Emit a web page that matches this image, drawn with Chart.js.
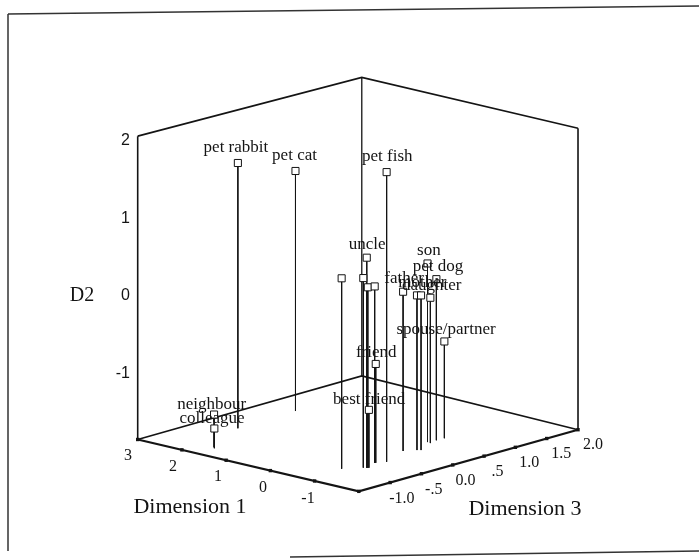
<!DOCTYPE html>
<html>
<head>
<meta charset="utf-8">
<script src="https://cdn.jsdelivr.net/npm/chart.js@4/dist/chart.umd.min.js"></script>
<style>
    html, body { margin: 0; padding: 0; background: #fff; }
    #chart { display: block; }
</style>
</head>
<body>
<canvas id="chart" width="699" height="559"></canvas>
<script>
(function () {
    'use strict';

    // MDS solution, three dimensions
    const pointNames = ['pet rabbit', 'pet cat', 'pet fish', 'uncle', '', '', '', '', 'son', 'pet dog',
        'father', '', 'mother', 'daughter', 'spouse/partner', 'friend', 'best friend', 'neighbour', 'colleague'];
    const dim1Values = [2.25, 2.29, -1.05, -1.07, -0.80, -1.02, -1.08, -0.95, -0.69, -0.72,
        -0.78, -0.91, -0.96, -0.77, -0.73, -0.96, -1.09, 1.72, 1.67];
    const dim2Values = [1.61, 1.29, 1.91, 0.86, 0.60, 0.59, 0.47, 0.42, 0.46, 0.23,
        0.20, 0.14, 0.14, 0.02, -0.62, -0.60, -1.14, -1.47, -1.64];
    const dim3Values = [-0.45, 0.48, -0.39, -0.72, -0.93, -0.74, -0.71, -0.51, 0.51, 0.63,
        0.06, 0.19, 0.22, 0.50, 0.75, -0.50, -0.70, -1.19, -1.22];

    const dim1Ticks = [3, 2, 1, 0, -1];
    const dim1TickLabels = ['3', '2', '1', '0', '-1'];
    const dim2Ticks = [2, 1, 0, -1];
    const dim2TickLabels = ['2', '1', '0', '-1'];
    const dim3Ticks = [-1, -0.5, 0, 0.5, 1, 1.5, 2];
    const dim3TickLabels = ['-1.0', '-.5', '0.0', '.5', '1.0', '1.5', '2.0'];

    const dim1Range = [3, -2];
    const dim2Range = [-1.9, 2.1];
    const dim3Range = [-1.5, 2];

    // box placement on the page plane (floor corners and wall heights)
    const floorLeft = [134, 443];
    const floorFront = [359, 496];
    const floorRight = [582, 433];
    const floorBack = [362, 378];
    const heights = { left: 310, front: 313, right: 308, back: 305 };

    const ink = '#141414';
    const serif = '"Liberation Serif", "Times New Roman", serif';
    const sans = '"Liberation Sans", Arial, sans-serif';

    function project(d1, d2, d3) {
        const u = (d1 - dim1Range[0]) / (dim1Range[1] - dim1Range[0]);
        const w = (d3 - dim3Range[0]) / (dim3Range[1] - dim3Range[0]);
        const v = (d2 - dim2Range[0]) / (dim2Range[1] - dim2Range[0]);
        function mix(a, b, c, d) {
            return (1 - u) * (1 - w) * a + u * (1 - w) * b + u * w * c + (1 - u) * w * d;
        }
        const x = mix(floorLeft[0], floorFront[0], floorRight[0], floorBack[0]);
        const yFloor = mix(floorLeft[1], floorFront[1], floorRight[1], floorBack[1]);
        const h = mix(heights.left, heights.front, heights.right, heights.back);
        return { x: x, y: yFloor - v * h };
    }

    function lineSet(points, width) {
        return {
            data: points,
            showLine: true,
            borderColor: ink,
            borderWidth: width,
            pointRadius: 0,
            fill: false,
            tension: 0
        };
    }

    const lo1 = dim1Range[0], hi1 = dim1Range[1];
    const lo2 = dim2Range[0], hi2 = dim2Range[1];
    const lo3 = dim3Range[0], hi3 = dim3Range[1];

    const leftBottom = project(lo1, lo2, lo3);
    const leftTop = project(lo1, hi2, lo3);
    const frontBottom = project(hi1, lo2, lo3);
    const rightBottom = project(hi1, lo2, hi3);
    const rightTop = project(hi1, hi2, hi3);
    const backBottom = project(lo1, lo2, hi3);
    const backTop = project(lo1, hi2, hi3);

    const markers = pointNames.map(function (name, i) {
        return project(dim1Values[i], dim2Values[i], dim3Values[i]);
    });

    const tickMarks = dim1Ticks.concat([hi1]).map(function (t) {
        return project(t, lo2, lo3);
    }).concat(dim3Ticks.map(function (t) {
        return project(hi1, lo2, t);
    }));

    const datasets = [];

    datasets.push({
        data: markers,
        pointStyle: 'rect',
        pointRadius: 5,
        pointBackgroundColor: '#fff',
        pointBorderColor: ink,
        pointBorderWidth: 1
    });

    datasets.push({
        data: tickMarks,
        pointStyle: 'rect',
        pointRadius: 2.4,
        pointBackgroundColor: ink,
        pointBorderColor: ink,
        pointBorderWidth: 0
    });

    pointNames.forEach(function (name, i) {
        datasets.push(lineSet([
            markers[i],
            project(dim1Values[i], lo2, dim3Values[i])
        ], 1));
    });

    datasets.push(lineSet([leftBottom, frontBottom, rightBottom], 2.2));
    datasets.push(lineSet([leftTop, backTop, rightTop], 1.6));
    datasets.push(lineSet([backTop, backBottom], 1.3));
    datasets.push(lineSet([leftTop, leftBottom], 1.6));
    datasets.push(lineSet([rightTop, rightBottom], 1.6));
    datasets.push(lineSet([leftBottom, backBottom, rightBottom], 1.6));

    function drawText(ctx, text, x, y, font, align) {
        ctx.font = font;
        ctx.textAlign = align || 'center';
        ctx.textBaseline = 'middle';
        ctx.fillText(text, x, y);
    }

    const annotations = {
        id: 'annotations',
        beforeDraw: function (chart) {
            const ctx = chart.ctx;
            ctx.save();
            ctx.strokeStyle = '#333';
            ctx.lineWidth = 1.5;
            ctx.beginPath();
            ctx.moveTo(8, 14);
            ctx.lineTo(699, 6);
            ctx.moveTo(8, 14);
            ctx.lineTo(8, 551);
            ctx.moveTo(290, 557);
            ctx.lineTo(699, 551);
            ctx.stroke();
            ctx.restore();
        },
        afterDatasetsDraw: function (chart) {
            const ctx = chart.ctx;
            ctx.save();
            ctx.fillStyle = ink;

            pointNames.forEach(function (name, i) {
                if (name) {
                    drawText(ctx, name, markers[i].x, markers[i].y - 13, '17px ' + serif);
                }
            });

            dim1Ticks.forEach(function (t, i) {
                const p = project(t, lo2, lo3);
                drawText(ctx, dim1TickLabels[i], p.x - 6, p.y + 13, '16px ' + serif);
            });
            dim3Ticks.forEach(function (t, i) {
                const p = project(hi1, lo2, t);
                drawText(ctx, dim3TickLabels[i], p.x + 11, p.y + 12, '16px ' + serif);
            });
            dim2Ticks.forEach(function (t, i) {
                const p = project(lo1, t, lo3);
                drawText(ctx, dim2TickLabels[i], p.x - 4, p.y, '16px ' + sans, 'right');
            });

            drawText(ctx, 'D2', 82, 296, '20px ' + serif);
            drawText(ctx, 'Dimension 1', 190, 507, '22px ' + serif);
            drawText(ctx, 'Dimension 3', 525, 509, '22px ' + serif);
            ctx.restore();
        }
    };

    new Chart(document.getElementById('chart'), {
        type: 'scatter',
        data: { datasets: datasets },
        options: {
            responsive: false,
            animation: false,
            layout: { padding: 0 },
            plugins: {
                legend: { display: false },
                tooltip: { enabled: false }
            },
            scales: {
                x: { type: 'linear', min: 0, max: 699, display: false },
                y: { type: 'linear', min: 0, max: 559, reverse: true, display: false }
            }
        },
        plugins: [annotations]
    });
})();
</script>
</body>
</html>
